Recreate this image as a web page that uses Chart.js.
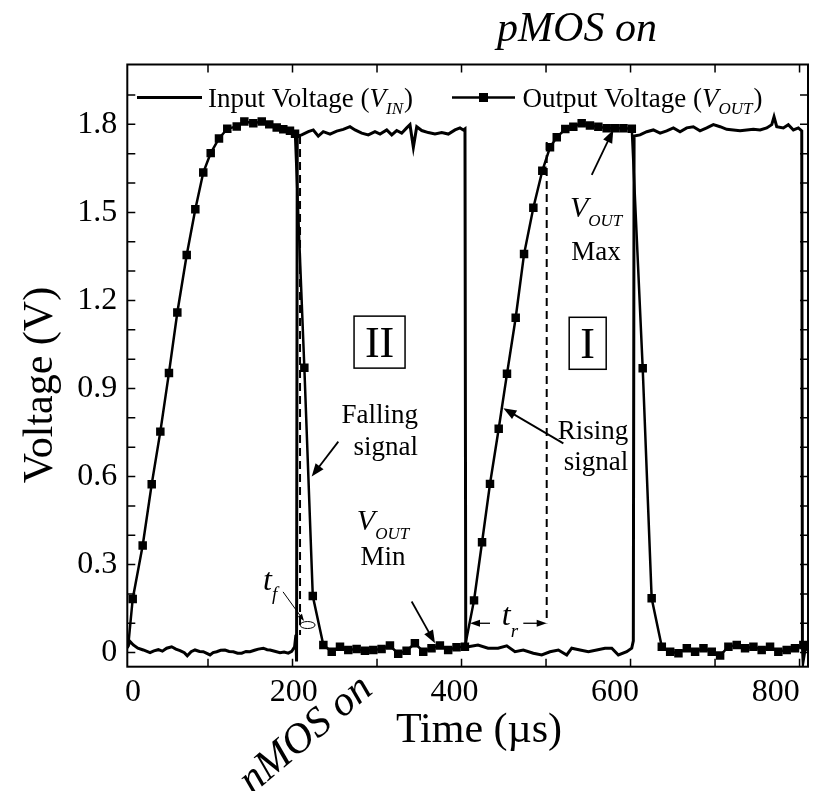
<!DOCTYPE html>
<html>
<head>
<meta charset="utf-8">
<title>Inverter transient response</title>
<script src="https://cdn.jsdelivr.net/npm/chart.js@4.4.1/dist/chart.umd.min.js"></script>
<style>
    html, body { margin: 0; padding: 0; background: #fff; }
    #wrap { width: 815px; height: 791px; }
</style>
</head>
<body>
<div id="wrap"><canvas id="transientChart" width="815" height="791"></canvas></div>
<script>
// Input voltage trace (time in µs, voltage in V)
const inputTime = [
    4.5, 7.7, 11.6, 17, 23.4, 31.4, 36, 41.2, 46, 51.1, 57, 62, 66.9, 72, 75.5, 80, 84.6, 90, 94.4, 98,
    102.4, 106, 110.3, 115, 120.1, 125, 130, 135, 139.9, 145, 149.7, 155, 159.5, 165.4, 170, 173.4, 180,
    185.2, 190, 195, 199, 202.5, 204, 204.8, 205.6,
    210.9, 218.7, 224.6, 230.5, 236.4, 244.4, 252.3, 260.1, 268, 274, 281.9, 289.7, 297.6, 303.6, 311.5,
    317.4, 323.3, 329.2, 335.1, 339, 343, 347, 352.9, 360.7, 368.6, 376.6, 384.4, 392.3, 398.2, 402.1, 404.1,
    405, 408, 419.5, 431.4, 443.2, 453.5, 463.3, 473.1, 485, 494.9, 504.7, 514.6, 524.5, 530.4, 540.2,
    550.1, 560, 569.8, 577.8, 585.6, 595.5, 601.4, 603.3, 604.2,
    611.2, 619.2, 627, 635, 642.8, 650.7, 658.6, 666.5, 674.3, 682.2, 690.2, 698, 706, 713.8, 721.7,
    729.6, 737.5, 745.3, 753.3, 761.2, 767.1, 769.8, 773, 780.8, 786.7, 792.7, 798.6, 802.6,
    803.4, 804.2, 806.5, 810
];
const inputVolt = [
    0.016, 0.038, 0.026, 0.015, 0.009, 0.0, 0.006, 0.010, 0.005, 0.015, 0.020, 0.012, 0.007, 0.0, -0.011, 0.003, 0.009, 0.004, 0.003, -0.002,
    -0.008, 0.0, 0.003, 0.008, 0.009, 0.004, 0.003, -0.002, -0.002, 0.004, 0.003, 0.008, 0.012, 0.015, 0.010, 0.009, 0.004,
    0.0, 0.002, -0.002, 0.004, 0.02, 0.06, -0.03, 1.76,
    1.764, 1.775, 1.781, 1.760, 1.775, 1.767, 1.777, 1.783, 1.792, 1.781, 1.770, 1.764, 1.775, 1.767, 1.781,
    1.764, 1.779, 1.770, 1.788, 1.799, 1.722, 1.792, 1.779, 1.772, 1.767, 1.772, 1.767, 1.781, 1.788, 1.781, 1.785,
    0.02, 0.020, 0.026, 0.015, 0.015, 0.023, 0.003, 0.009, -0.002, -0.008, 0.003, 0.009, -0.008, 0.015, 0.009,
    0.003, 0.009, 0.015, 0.015, -0.008, 0.003, 0.015, 0.04, 1.76,
    1.764, 1.775, 1.781, 1.770, 1.778, 1.788, 1.775, 1.788, 1.792, 1.778, 1.788, 1.799, 1.792, 1.783, 1.781,
    1.778, 1.781, 1.783, 1.781, 1.788, 1.799, 1.826, 1.792, 1.788, 1.799, 1.781, 1.788, 1.778,
    0.02, -0.03, 0.01, 0.012
];

// Output voltage trace (square marker on every sample after the first)
const outputTime = [
    5.5, 10.9, 22.7, 33.4, 43.6, 53.8, 63.7, 74.8, 85, 94.4, 103.2, 113, 122.8, 134, 143, 153.6, 163.6,
    172.5, 181.3, 189.1, 197, 203,
    214, 224,
    236.5, 246.4, 256.2, 266, 275.9, 285.7, 295.6, 305.4, 315.3, 325.1, 335, 344.8, 354.7, 364.5, 374.4,
    384.2, 394.1, 404,
    414.8, 424.3, 433.7, 444, 453.8, 464.1, 474, 485, 495.6, 504.7, 512.7, 522.8, 532.3, 542.2, 552,
    561.9, 571.8, 581.7, 591.6, 601.5,
    614.4, 625,
    637, 646.9, 656.7, 666.6, 676.4, 686.3, 696.1, 706, 715.8, 725.7, 735.5, 745.4, 755.2, 765.1, 774.9,
    784.8, 794.6, 804.5
];
const outputVolt = [
    0.02, 0.183, 0.365, 0.574, 0.753, 0.953, 1.159, 1.355, 1.511, 1.636, 1.702, 1.752, 1.785, 1.793, 1.81, 1.804, 1.81,
    1.80, 1.789, 1.783, 1.778, 1.768,
    0.971, 0.193,
    0.026, 0.003, 0.020, 0.009, 0.012, 0.006, 0.009, 0.012, 0.024, -0.004, 0.006, 0.032, 0.003, 0.015, 0.024,
    0.009, 0.018, 0.020,
    0.178, 0.376, 0.575, 0.763, 0.950, 1.141, 1.358, 1.516, 1.642, 1.722, 1.756, 1.784, 1.792, 1.804, 1.796,
    1.792, 1.787, 1.787, 1.787, 1.785,
    0.969, 0.185,
    0.020, 0.003, -0.002, 0.015, 0.003, 0.015, 0.003, -0.010, 0.020, 0.026, 0.015, 0.020, 0.009, 0.020, 0.003,
    0.009, 0.015, 0.026
];

// Tick labels
const yTickLabels = [0, 0.3, 0.6, 0.9, 1.2, 1.5, 1.8];
const xTickLabels = [0, 200, 400, 600, 800];
const xMinorTicks = [100, 200, 300, 400, 500, 600, 700, 800];
const yMinorTicks = [0, 0.1, 0.2, 0.3, 0.4, 0.5, 0.6, 0.7, 0.8, 0.9, 1.0, 1.1, 1.2, 1.3, 1.4, 1.5, 1.6, 1.7, 1.8, 1.9];

const SERIF = '"Liberation Serif", "Times New Roman", serif';

function toPoints(xs, ys) {
    return xs.map((x, i) => ({ x: x, y: ys[i] }));
}

// Line with a filled arrow head at (x2, y2)
function arrow(ctx, x1, y1, x2, y2, head, half, width) {
    const a = Math.atan2(y2 - y1, x2 - x1);
    ctx.lineWidth = width;
    ctx.beginPath();
    ctx.moveTo(x1, y1);
    ctx.lineTo(x2 - head * 0.6 * Math.cos(a), y2 - head * 0.6 * Math.sin(a));
    ctx.stroke();
    ctx.beginPath();
    ctx.moveTo(x2, y2);
    ctx.lineTo(x2 - head * Math.cos(a) + half * Math.sin(a), y2 - head * Math.sin(a) - half * Math.cos(a));
    ctx.lineTo(x2 - head * Math.cos(a) - half * Math.sin(a), y2 - head * Math.sin(a) + half * Math.cos(a));
    ctx.closePath();
    ctx.fill();
}

// Italic symbol with an italic subscript, returns total width
function subText(ctx, x, y, main, sub, size, subSize, drop) {
    ctx.font = 'italic ' + size + 'px ' + SERIF;
    ctx.fillText(main, x, y);
    const w = ctx.measureText(main).width;
    ctx.font = 'italic ' + subSize + 'px ' + SERIF;
    ctx.fillText(sub, x + w, y + drop);
    return w + ctx.measureText(sub).width;
}

function subTextWidth(ctx, main, sub, size, subSize) {
    ctx.font = 'italic ' + size + 'px ' + SERIF;
    const w = ctx.measureText(main).width;
    ctx.font = 'italic ' + subSize + 'px ' + SERIF;
    return w + ctx.measureText(sub).width;
}

// Frame, inward ticks, legend, annotations and titles
const decorations = {
    id: 'decorations',
    afterDraw(chart) {
        const ctx = chart.ctx;
        const area = chart.chartArea;
        const xs = chart.scales.x;
        const ys = chart.scales.y;
        const px = t => xs.getPixelForValue(t);
        const py = v => ys.getPixelForValue(v);

        ctx.save();
        ctx.strokeStyle = '#000';
        ctx.fillStyle = '#000';

        // frame
        ctx.lineWidth = 2;
        ctx.strokeRect(area.left, area.top, area.right - area.left, area.bottom - area.top);

        // ticks pointing inwards on all four sides
        ctx.lineWidth = 1.5;
        ctx.beginPath();
        xMinorTicks.forEach(t => {
            const x = px(t);
            ctx.moveTo(x, area.bottom); ctx.lineTo(x, area.bottom - 8);
            ctx.moveTo(x, area.top); ctx.lineTo(x, area.top + 8);
        });
        yMinorTicks.forEach(v => {
            const y = py(v);
            ctx.moveTo(area.left, y); ctx.lineTo(area.left + 8, y);
            ctx.moveTo(area.right, y); ctx.lineTo(area.right - 8, y);
        });
        ctx.stroke();

        // legend
        ctx.textAlign = 'left';
        ctx.textBaseline = 'alphabetic';
        ctx.lineWidth = 3;
        ctx.beginPath();
        ctx.moveTo(137, 97.5); ctx.lineTo(202, 97.5);
        ctx.stroke();
        let lx = 208;
        ctx.font = '27px ' + SERIF;
        ctx.fillText('Input Voltage (', lx, 106.5);
        lx += ctx.measureText('Input Voltage (').width;
        lx += subText(ctx, lx, 106.5, 'V', 'IN', 27, 17, 7);
        ctx.font = '27px ' + SERIF;
        ctx.fillText(')', lx + 1, 106.5);

        ctx.lineWidth = 2.5;
        ctx.beginPath();
        ctx.moveTo(452, 97.5); ctx.lineTo(515, 97.5);
        ctx.stroke();
        ctx.fillRect(483.5 - 4.5, 97.5 - 4.5, 9, 9);
        lx = 522.5;
        ctx.font = '27px ' + SERIF;
        ctx.fillText('Output Voltage (', lx, 106.5);
        lx += ctx.measureText('Output Voltage (').width;
        lx += subText(ctx, lx, 106.5, 'V', 'OUT', 27, 17, 7);
        ctx.font = '27px ' + SERIF;
        ctx.fillText(')', lx + 1, 106.5);

        // region boxes
        ctx.lineWidth = 1.5;
        ctx.font = '44px ' + SERIF;
        ctx.textAlign = 'center';
        [['II', 303, 1.058, 51], ['I', 549.3, 1.054, 37]].forEach(b => {
            const cx = px(b[1]);
            const cy = py(b[2]);
            ctx.strokeRect(cx - b[3] / 2, cy - 26, b[3], 52);
            ctx.fillText(b[0], cx, cy + 15);
        });

        // dashed guides for t_f and t_r
        ctx.lineWidth = 2;
        ctx.setLineDash([8, 5]);
        ctx.beginPath();
        ctx.moveTo(px(208.9), py(1.76)); ctx.lineTo(px(208.9), py(0.06));
        ctx.moveTo(px(500.8), py(1.74)); ctx.lineTo(px(500.8), py(0.1));
        ctx.stroke();
        ctx.setLineDash([]);

        // labels
        ctx.font = '27px ' + SERIF;
        ctx.textAlign = 'right';
        ctx.fillText('Falling', px(348.5), py(0.781));
        ctx.fillText('signal', px(348.5), py(0.674));
        ctx.fillText('Rising', px(597.4), py(0.728));
        ctx.fillText('signal', px(597.4), py(0.622));

        ctx.textAlign = 'left';
        let w = subTextWidth(ctx, 'V', 'OUT', 30, 17);
        subText(ctx, px(307.1) - w / 2, py(0.418), 'V', 'OUT', 30, 17, 9);
        ctx.font = '27px ' + SERIF;
        ctx.textAlign = 'center';
        ctx.fillText('Min', px(307.1), py(0.299));

        ctx.textAlign = 'left';
        w = subTextWidth(ctx, 'V', 'OUT', 30, 17);
        subText(ctx, px(559.2) - w / 2, py(1.486), 'V', 'OUT', 30, 17, 9);
        ctx.font = '27px ' + SERIF;
        ctx.textAlign = 'center';
        ctx.fillText('Max', px(559.2), py(1.338));

        // pointer arrows
        ctx.textAlign = 'left';
        arrow(ctx, px(254.2), py(0.719), px(222.7), py(0.600), 13, 5, 1.8);
        arrow(ctx, px(520.5), py(0.713), px(449.5), py(0.833), 13, 5, 1.8);
        arrow(ctx, px(341), py(0.174), px(368.6), py(0.032), 13, 5, 1.8);
        arrow(ctx, px(554.1), py(1.628), px(579.6), py(1.781), 13, 5, 1.8);

        // fall time marker
        subText(ctx, px(165.2), py(0.214), 't', 'f', 32, 19, 10);
        arrow(ctx, px(188.8), py(0.207), px(213.6), py(0.108), 7, 2.5, 1);
        ctx.lineWidth = 1;
        ctx.beginPath();
        ctx.ellipse(px(217.8), py(0.094), 7.5, 3.5, 0, 0, Math.PI * 2);
        ctx.stroke();

        // rise time marker
        arrow(ctx, px(433.7), py(0.1), px(410), py(0.1), 10, 3.5, 1.3);
        arrow(ctx, px(473.1), py(0.1), px(500.8), py(0.1), 10, 3.5, 1.3);
        subText(ctx, px(447.6), py(0.094), 't', 'r', 32, 19, 12);

        // axis titles
        ctx.fillStyle = '#000';
        ctx.font = '42px ' + SERIF;
        ctx.textAlign = 'center';
        ctx.textBaseline = 'alphabetic';
        ctx.fillText('Time (\u00b5s)', 479, 742);

        ctx.save();
        ctx.translate(41, 385);
        ctx.rotate(-Math.PI / 2);
        ctx.textBaseline = 'middle';
        ctx.fillText('Voltage (V)', 0, 0);
        ctx.restore();

        // transistor state notes
        ctx.font = 'italic 42px ' + SERIF;
        ctx.fillText('pMOS on', 577, 41);
        ctx.save();
        ctx.translate(306, 735);
        ctx.rotate(-40 * Math.PI / 180);
        ctx.textBaseline = 'middle';
        ctx.fillText('nMOS on', 0, 0);
        ctx.restore();

        ctx.restore();
    }
};

document.addEventListener('DOMContentLoaded', function() {
    const ctx = document.getElementById('transientChart').getContext('2d');
    new Chart(ctx, {
        type: 'line',
        data: {
            datasets: [{
                label: 'Output Voltage (VOUT)',
                data: toPoints(outputTime, outputVolt),
                borderColor: '#000',
                backgroundColor: '#000',
                borderWidth: 2.5,
                pointStyle: 'rect',
                pointRadius: c => c.dataIndex === 0 ? 0 : 6,
                pointBorderWidth: 0,
                pointBackgroundColor: '#000',
                tension: 0,
                fill: false,
                clip: 0,
                order: 1
            },
            {
                label: 'Input Voltage (VIN)',
                data: toPoints(inputTime, inputVolt),
                borderColor: '#000',
                borderWidth: 3,
                pointRadius: 0,
                tension: 0,
                fill: false,
                clip: 0,
                order: 2
            }]
        },
        options: {
            responsive: false,
            animation: false,
            devicePixelRatio: 1,
            layout: {
                padding: { top: 64.5, right: 7, left: 0, bottom: 0 }
            },
            plugins: {
                legend: { display: false },
                tooltip: { enabled: false }
            },
            scales: {
                x: {
                    type: 'linear',
                    min: 4.5,
                    max: 810,
                    display: false
                },
                // label-only axis: the printed labels sit slightly off the tick marks in the original
                xl: {
                    type: 'linear',
                    position: 'bottom',
                    min: -7,
                    max: 840,
                    afterBuildTicks: function(scale) {
                        scale.ticks = xTickLabels.map(v => ({ value: v }));
                    },
                    afterFit: function(scale) {
                        scale.height = 124.3;
                    },
                    grid: { display: false, drawTicks: false },
                    border: { display: false },
                    ticks: {
                        color: '#000',
                        font: { family: SERIF, size: 32 },
                        padding: 7,
                        maxRotation: 0,
                        autoSkip: false
                    }
                },
                y: {
                    type: 'linear',
                    min: -0.048,
                    max: 2.004,
                    afterBuildTicks: function(scale) {
                        scale.ticks = yTickLabels.map(v => ({ value: v }));
                    },
                    afterFit: function(scale) {
                        scale.width = 127.3;
                    },
                    grid: { display: false, drawTicks: false },
                    border: { display: false },
                    ticks: {
                        color: '#000',
                        font: { family: SERIF, size: 32 },
                        padding: 10,
                        autoSkip: false,
                        callback: function(value) {
                            return value === 0 ? '0' : value.toFixed(1);
                        }
                    }
                }
            }
        },
        plugins: [decorations]
    });
});
</script>
</body>
</html>
